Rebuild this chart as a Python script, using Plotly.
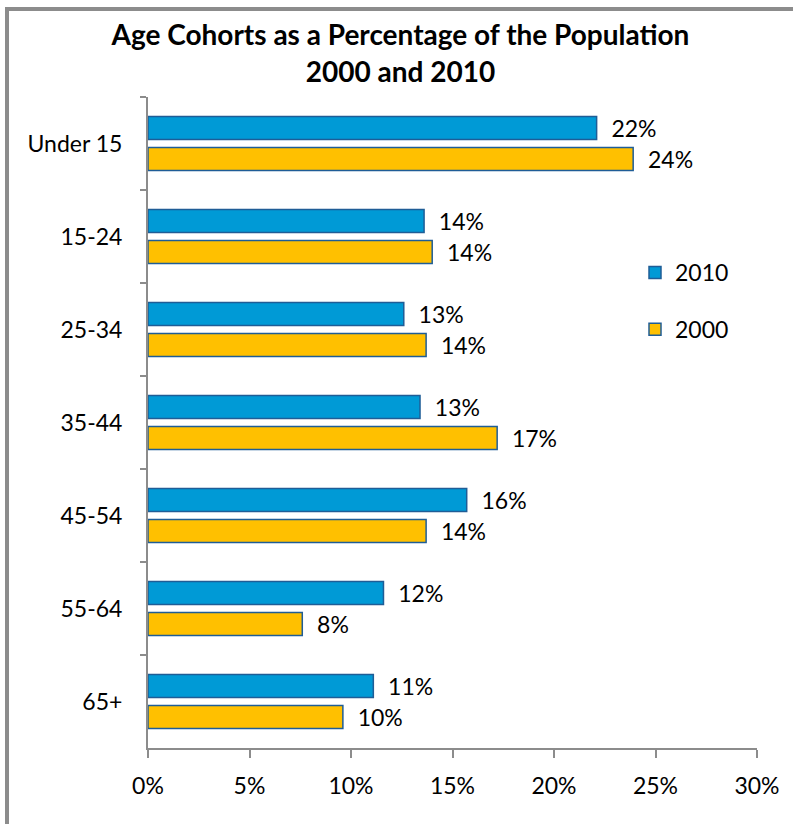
import plotly.graph_objects as go

categories = ["Under 15", "15-24", "25-34", "35-44", "45-54", "55-64", "65+"]
values_2010 = [22.1, 13.6, 12.6, 13.4, 15.7, 11.6, 11.1]
values_2000 = [23.9, 14.0, 13.7, 17.2, 13.7, 7.6, 9.6]
x_ticks = [0, 5, 10, 15, 20, 25, 30]
x_tick_labels = ["0%", "5%", "10%", "15%", "20%", "25%", "30%"]

FONT = "Lato"
BORDER = "#1f5d96"
PAD = "\u00a0\u00a0"

def labels(vals):
    return [PAD + f"{int(round(v))}%" for v in vals]

fig = go.Figure()
fig.add_trace(go.Bar(
    y=categories, x=values_2010, orientation="h", name="2010",
    legendgroup="a",
    marker=dict(color="#009ad6", line=dict(color=BORDER, width=1.5)),
    text=labels(values_2010), textposition="outside", cliponaxis=False,
    constraintext="none",
    textfont=dict(size=23, color="#000000", family=FONT),
))
fig.add_trace(go.Bar(
    y=categories, x=values_2000, orientation="h", name="2000",
    legendgroup="b",
    marker=dict(color="#ffc000", line=dict(color=BORDER, width=1.5)),
    text=labels(values_2000), textposition="outside", cliponaxis=False,
    constraintext="none",
    textfont=dict(size=23, color="#000000", family=FONT),
))

ml, mr, mt, mb = 148, 36, 97, 76
W, H = 793, 824
pw, ph = W - ml - mr, H - mt - mb

def px_to_paper_x(px):
    return (px - ml) / pw

def px_to_paper_y(py):
    return 1 - (py - mt) / ph

fig.update_layout(
    width=W, height=H,
    margin=dict(l=ml, r=mr, t=mt, b=mb),
    paper_bgcolor="white", plot_bgcolor="white",
    font=dict(family=FONT, size=23, color="#000000"),
    title=dict(
        text="<b>Age Cohorts as a Percentage of the Population<br>2000 and 2010</b>",
        x=0.505, xanchor="center", y=0.945, yanchor="top",
        font=dict(size=28, family=FONT, color="#000000"),
    ),
    barmode="group", bargap=0.333, bargroupgap=0.26,
    showlegend=True,
    legend=dict(
        x=px_to_paper_x(635), y=px_to_paper_y(251), xanchor="left", yanchor="top",
        traceorder="grouped", tracegroupgap=24,
        font=dict(size=23, family=FONT), bgcolor="rgba(0,0,0,0)",
    ),
    xaxis=dict(
        range=[0, 30], tickvals=x_ticks, ticktext=x_tick_labels,
        showgrid=False, zeroline=False,
        showline=True, linecolor="#8c8c8c", linewidth=2,
        ticks="outside", ticklen=8, tickwidth=2, tickcolor="#8c8c8c",
        ticklabelstandoff=8,
        tickfont=dict(size=23, family=FONT), fixedrange=True,
    ),
    yaxis=dict(
        autorange="reversed", type="category",
        showgrid=False, showline=True, linecolor="#8c8c8c", linewidth=2,
        ticks="outside", ticklen=6, tickwidth=2, tickcolor="#8c8c8c",
        tickson="boundaries", ticklabelstandoff=19,
        tickfont=dict(size=23, family=FONT), fixedrange=True,
    ),
)

# outer chart border (frame)
fig.add_shape(
    type="rect", xref="paper", yref="paper",
    x0=px_to_paper_x(7), x1=px_to_paper_x(W + 10),
    y0=px_to_paper_y(H + 10), y1=px_to_paper_y(9),
    line=dict(color="#8c8c8c", width=4), fillcolor="rgba(0,0,0,0)", layer="below",
)

fig.write_html("out.html", config={"displayModeBar": False},
               post_script="document.body.style.margin='0';")
